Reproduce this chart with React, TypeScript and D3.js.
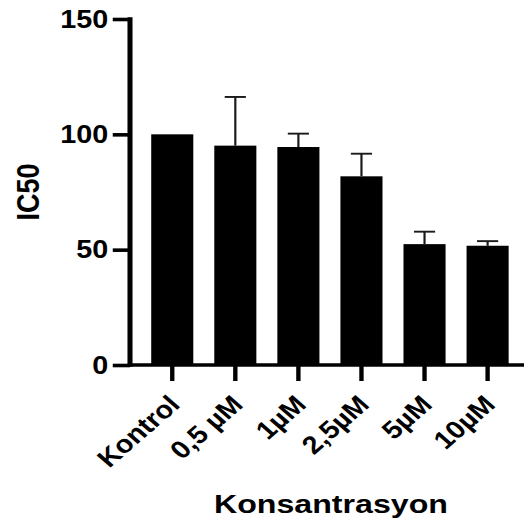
import React, { useEffect, useRef } from 'react';
import * as d3 from 'd3';

const categories = ['Kontrol', '0,5 µM', '1µM', '2,5µM', '5µM', '10µM'];
const means = [100, 95.1, 94.5, 81.8, 52.4, 51.7];
const errTops = [100, 116.2, 100.3, 91.6, 57.8, 53.7];
const yTicks = [0, 50, 100, 150];

// the original figure is stretched horizontally
const SX = 1.15;

const App = () => {
  const svgRef = useRef<SVGSVGElement>(null);

  useEffect(() => {
    if (!svgRef.current) return;
    const root = d3.select(svgRef.current);
    root.selectAll('*').remove();

    const width = 525;
    const height = 527;
    const font = 'Arial, "Liberation Sans", sans-serif';

    root.attr('width', width).attr('height', height);
    const svg = root.append('g').attr('transform', `scale(${SX},1)`);

    const x0 = 130 / SX;
    const x1 = 524 / SX;

    const x = d3.scaleBand<string>()
      .domain(categories)
      .range([x0, x1])
      .paddingInner(0.333)
      .paddingOuter(0.29)
      .align(0.58);

    const y = d3.scaleLinear().domain([0, 150]).range([365, 19]);

    // bars
    svg.append('g')
      .selectAll('rect')
      .data(categories)
      .join('rect')
      .attr('x', d => x(d)!)
      .attr('y', (d, i) => y(means[i]))
      .attr('width', x.bandwidth())
      .attr('height', (d, i) => y(0) - y(means[i]))
      .attr('fill', '#000');

    // error bars (upper only)
    const eb = svg.append('g').attr('stroke', '#1a1a1a').attr('stroke-width', 1.9);
    categories.forEach((c, i) => {
      if (errTops[i] <= means[i]) return;
      const cx = x(c)! + x.bandwidth() / 2;
      eb.append('line')
        .attr('x1', cx).attr('x2', cx)
        .attr('y1', y(means[i])).attr('y2', y(errTops[i]));
      eb.append('line')
        .attr('x1', cx - 9.2).attr('x2', cx + 9.2)
        .attr('y1', y(errTops[i])).attr('y2', y(errTops[i]));
    });

    // y axis
    const yAxis = svg.append('g')
      .attr('transform', `translate(${x0},0)`)
      .call(d3.axisLeft(y).tickValues(yTicks).tickSize(15).tickPadding(4));
    yAxis.select('.domain').attr('stroke', '#000').attr('stroke-width', 4.4)
      .attr('d', `M0,${y(150) - 1.8}V${y(0) + 1.8}`);
    yAxis.selectAll('.tick line').attr('stroke', '#000').attr('stroke-width', 3.6);
    yAxis.selectAll('.tick text')
      .attr('font-family', font)
      .attr('font-weight', 'bold')
      .attr('font-size', 25)
      .attr('fill', '#000');

    // x axis
    const xAxis = svg.append('g')
      .attr('transform', `translate(0,${y(0)})`)
      .call(d3.axisBottom(x).tickSize(16).tickSizeOuter(0));
    xAxis.select('.domain').attr('stroke', '#000').attr('stroke-width', 3.6)
      .attr('d', `M${x0 - 2},0H${x1}`);
    xAxis.selectAll('.tick line').attr('stroke', '#000').attr('stroke-width', 3.8);
    xAxis.selectAll('.tick text')
      .attr('font-family', font)
      .attr('font-weight', 'bold')
      .attr('font-size', 25)
      .attr('fill', '#000')
      .attr('text-anchor', 'end')
      .attr('dy', null)
      .attr('y', 0)
      .attr('transform', 'translate(8,41) rotate(-45)');

    // y title
    svg.append('text')
      .attr('transform', `translate(${39 / SX},192) rotate(-90)`)
      .attr('text-anchor', 'middle')
      .attr('font-family', font)
      .attr('font-weight', 'bold')
      .attr('font-size', 27)
      .text('IC50');

    // x title
    svg.append('text')
      .attr('x', 331 / SX)
      .attr('y', 513)
      .attr('text-anchor', 'middle')
      .attr('font-family', font)
      .attr('font-weight', 'bold')
      .attr('font-size', 25)
      .attr('textLength', 234 / SX)
      .attr('lengthAdjust', 'spacingAndGlyphs')
      .text('Konsantrasyon');
  }, []);

  return (
    <div style={{ position: 'absolute', left: 0, top: 0 }}>
      <svg ref={svgRef} style={{ display: 'block', background: '#fff' }}></svg>
    </div>
  );
};

export default App;
